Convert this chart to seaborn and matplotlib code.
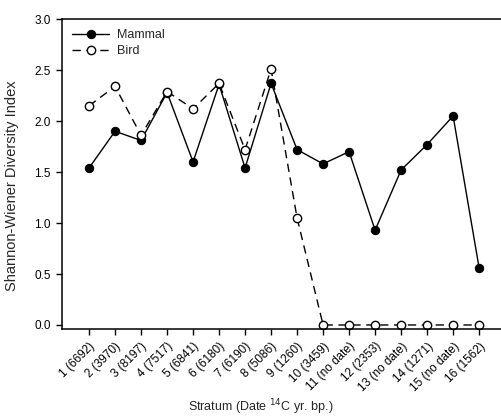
import pandas as pd
import matplotlib.pyplot as plt
import matplotlib.transforms as mtrans
import seaborn as sns

strata = ["1 (6692)", "2 (3970)", "3 (8197)", "4 (7517)", "5 (6841)", "6 (6180)",
          "7 (6190)", "8 (5086)", "9 (1260)", "10 (3459)", "11 (no date)", "12 (2353)",
          "13 (no date)", "14 (1271)", "15 (no date)", "16 (1562)"]
mammal = [1.54, 1.90, 1.81, 2.28, 1.60, 2.36, 1.54, 2.37, 1.72, 1.58, 1.70, 0.93,
          1.52, 1.77, 2.05, 0.56]
bird = [2.15, 2.34, 1.86, 2.29, 2.12, 2.37, 1.72, 2.51, 1.05, 0.0, 0.0, 0.0,
        0.0, 0.0, 0.0, 0.0]

pos = list(range(1, len(strata) + 1))
df = pd.DataFrame({"pos": pos, "Mammal": mammal, "Bird": bird})

sns.set_style("ticks")
plt.rcParams["font.family"] = ["Liberation Sans", "DejaVu Sans"]

fig = plt.figure(figsize=(5.02, 4.16), dpi=100)
ax = fig.add_axes([0.1235, 0.209, 0.8765, 0.745])

sns.lineplot(data=df, x="pos", y="Mammal", ax=ax, color="black", lw=1.0,
             marker="o", markersize=6, markerfacecolor="black",
             markeredgecolor="black", label="Mammal")
sns.lineplot(data=df, x="pos", y="Bird", ax=ax, color="black", lw=1.0,
             linestyle=(0, (6, 4)), marker="o", markersize=6,
             markerfacecolor="white", markeredgecolor="black",
             markeredgewidth=1.0, label="Bird")

ax.set_xlim(-0.04, 16.88)
ax.set_ylim(-0.04, 3.0)
ax.set_yticks([0, 0.5, 1.0, 1.5, 2.0, 2.5, 3.0])
ax.set_yticklabels(["0.0", "0.5", "1.0", "1.5", "2.0", "2.5", "3.0"], fontsize=8.5)
ax.set_xticks(pos)
ax.set_xticklabels(strata, rotation=45, ha="right", rotation_mode="anchor", fontsize=8.5)
shift = mtrans.ScaledTranslation(7 / 100, 0, fig.dpi_scale_trans)
for lab in ax.get_xticklabels():
    lab.set_transform(lab.get_transform() + shift)
ax.tick_params(direction="out", length=4, width=1, pad=4, colors="black")

ax.set_xlabel("Stratum (Date $^{14}$C yr. bp.)", fontsize=9)
ax.xaxis.label.set_verticalalignment("baseline")
ax.xaxis.set_label_coords(0.451, -0.266)
ax.set_ylabel("Shannon-Wiener Diversity Index", fontsize=10.5)
ax.yaxis.set_label_coords(-0.097, 0.463)

for s in ax.spines.values():
    s.set_color("black")
    s.set_linewidth(1.1)
ax.spines["right"].set_visible(False)

ax.legend(loc="upper left", frameon=False, fontsize=9, handlelength=3.0,
          handletextpad=0.6, borderaxespad=0.4, borderpad=0.4, labelspacing=0.3)

fig.savefig("out.png", dpi=100)
